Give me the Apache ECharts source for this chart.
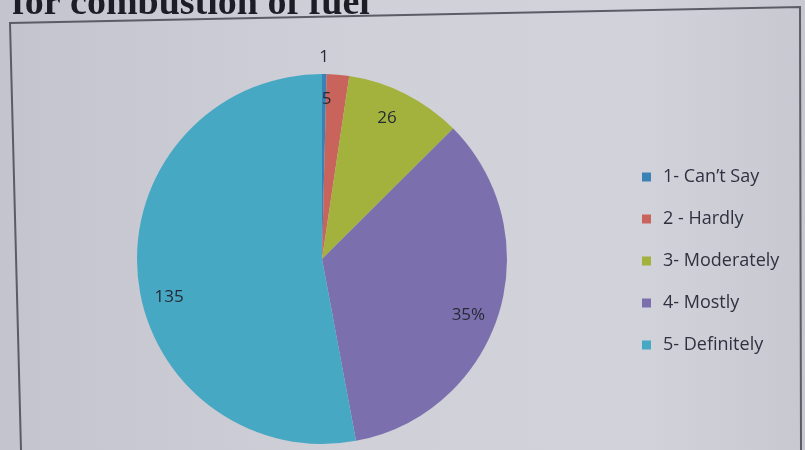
<!DOCTYPE html>
<html>
<head>
<meta charset="utf-8">
<script src="https://cdn.jsdelivr.net/npm/echarts@6/dist/echarts.min.js"></script>
<style>
  html, body { margin: 0; padding: 0; }
  #chart { width: 805px; height: 450px; }
</style>
</head>
<body>
<div id="chart"></div>
<script>
// Responses, clockwise from 12 o'clock
const categories = ['1- Can\u2019t Say', '2 - Hardly', '3- Moderately', '4- Mostly', '5- Definitely'];
const counts = [1, 5, 26, 88, 135];
const colors = ['#3a82b6', '#c8645c', '#a3b23c', '#7b70ad', '#47a8c3'];
// how each slice's label is written: raw count or share of total
const labelKinds = ['value', 'value', 'value', 'percent', 'value'];
// small nudges for labels that sit off the slice's mid-line
const labelNudges = [[-10, -11], [-9, -3], [-6, 0], [-4, 9], [4, 24]];

const chart = echarts.init(document.getElementById('chart'));

const sliceData = categories.map((name, i) => ({
  name,
  value: counts[i],
  itemStyle: { color: colors[i] }
}));

// a transparent ring on top of the pie carries the labels further out than mid-radius
const labelData = categories.map((name, i) => ({
  name,
  value: counts[i],
  label: {
    position: i === 0 ? 'outside' : 'inside',
    formatter: labelKinds[i] === 'percent' ? '{d}%' : '{c}',
    offset: labelNudges[i]
  }
}));

const labelFont = {
  fontFamily: 'Open Sans, Noto Sans, sans-serif',
  fontSize: 17,
  color: '#262a36'
};

chart.setOption({
  animation: false,
  backgroundColor: {
    type: 'linear', x: 0, y: 0, x2: 1, y2: 0,
    colorStops: [
      { offset: 0, color: '#c4c4ce' },
      { offset: 0.45, color: '#d0d0d9' },
      { offset: 0.8, color: '#d2d2da' },
      { offset: 1, color: '#c8c8d1' }
    ]
  },
  graphic: [
    {
      type: 'text',
      left: 12, top: -15,
      style: {
        text: 'for combustion of fuel',
        font: 'bold 38px "Liberation Serif", "DejaVu Serif", serif',
        fill: '#1d1d26'
      }
    },
    {
      type: 'polyline',
      shape: { points: [[21, 450], [10, 23], [800, 7], [801, 450]] },
      style: { stroke: '#5c5c66', lineWidth: 2, fill: null }
    }
  ],
  legend: {
    orient: 'vertical',
    left: 637,
    top: 163,
    itemGap: 24,
    itemWidth: 9,
    itemHeight: 9,
    icon: 'rect',
    data: categories,
    textStyle: {
      fontFamily: 'Open Sans, Noto Sans, sans-serif',
      fontSize: 18,
      color: '#2e3240',
      padding: [0, 0, 0, 7]
    }
  },
  series: [
    {
      type: 'pie',
      center: [322, 259],
      radius: 185,
      startAngle: 90,
      clockwise: true,
      avoidLabelOverlap: false,
      silent: true,
      label: { show: false },
      labelLine: { show: false },
      itemStyle: { borderWidth: 0 },
      data: sliceData
    },
    {
      type: 'pie',
      center: [322, 259],
      radius: [124, 185],
      startAngle: 90,
      clockwise: true,
      avoidLabelOverlap: false,
      silent: true,
      percentPrecision: 0,
      legendHoverLink: false,
      itemStyle: { color: 'rgba(0,0,0,0)' },
      label: Object.assign({ show: true }, labelFont),
      labelLine: { show: false, length: 6, length2: 0 },
      data: labelData
    }
  ]
});
</script>
</body>
</html>
